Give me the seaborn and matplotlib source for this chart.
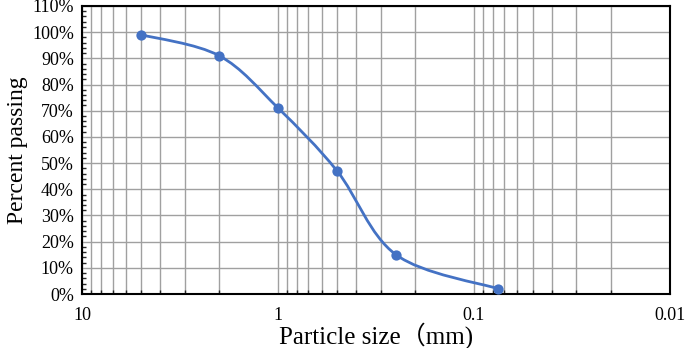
"""Particle size distribution curve (Excel-style smooth line, reversed log axis)."""
import matplotlib
matplotlib.use("Agg")
import matplotlib.pyplot as plt
import numpy as np
import pandas as pd
import seaborn as sns
from matplotlib.path import Path
from matplotlib.patches import PathPatch
from matplotlib.ticker import FixedLocator, FuncFormatter, MultipleLocator, LogLocator, NullFormatter

# data
sizes_mm = [5, 2, 1, 0.5, 0.25, 0.075]
passing = [0.99, 0.91, 0.71, 0.47, 0.15, 0.02]

x_ticks = [10, 1, 0.1, 0.01]
x_tick_labels = ["10", "1", "0.1", "0.01"]

BLUE = "#4472C4"

sns.set_theme(style="white")
plt.rcParams["font.family"] = ["Liberation Serif", "Noto Sans CJK SC"]

df = pd.DataFrame({"size": sizes_mm, "passing": passing})

fig, ax = plt.subplots(figsize=(6.85, 3.48), dpi=100)
fig.subplots_adjust(left=0.12, right=0.978, top=0.983, bottom=0.155)

ax.set_xscale("log")
ax.set_xlim(10, 0.01)
ax.set_ylim(0, 1.1)

# smooth curve like Excel: Catmull-Rom -> cubic bezier, built in log-x space
lx = np.log10(df["size"].to_numpy())
yy = df["passing"].to_numpy()
pts = np.column_stack([lx, yy])
verts = [pts[0]]
codes = [Path.MOVETO]
n = len(pts)
for i in range(n - 1):
    p0 = pts[i - 1] if i > 0 else pts[i]
    p1 = pts[i]
    p2 = pts[i + 1]
    p3 = pts[i + 2] if i + 2 < n else pts[i + 1]
    c1 = p1 + (p2 - p0) / 6
    c2 = p2 - (p3 - p1) / 6
    verts += [c1, c2, p2]
    codes += [Path.CURVE4] * 3
verts = np.array(verts)
verts[:, 0] = 10 ** verts[:, 0]
ax.add_patch(PathPatch(Path(verts, codes), transform=ax.transData,
                       fill=False, edgecolor=BLUE, lw=2, zorder=3))

sns.scatterplot(data=df, x="size", y="passing", color=BLUE, s=55,
                edgecolor=BLUE, linewidth=0, zorder=4, ax=ax, legend=False)

# grid
ax.xaxis.set_major_locator(FixedLocator(x_ticks))
ax.xaxis.set_major_formatter(FuncFormatter(lambda v, p: x_tick_labels[x_ticks.index(v)] if v in x_ticks else ""))
ax.xaxis.set_minor_locator(LogLocator(base=10, subs=np.arange(2, 10)))
ax.xaxis.set_minor_formatter(NullFormatter())
ax.yaxis.set_major_locator(MultipleLocator(0.1))
ax.yaxis.set_minor_locator(MultipleLocator(0.02))
ax.yaxis.set_major_formatter(FuncFormatter(lambda v, p: f"{v * 100:.0f}%"))

ax.grid(which="major", axis="both", color="#a0a0a0", lw=1)
ax.grid(which="minor", axis="x", color="#a0a0a0", lw=1)
ax.set_axisbelow(True)

for s in ax.spines.values():
    s.set_color("black")
    s.set_linewidth(1.5)

ax.tick_params(axis="both", which="major", direction="in", length=4, width=1,
               labelsize=13, colors="black", pad=6)
ax.tick_params(axis="y", which="minor", direction="in", length=3, width=1, left=True)
ax.tick_params(axis="x", which="minor", direction="in", length=3, width=1, bottom=True)
ax.tick_params(axis="x", which="major", pad=9)

ax.set_xlabel("Particle size（mm)", fontsize=18, color="black", labelpad=-1)
ax.set_ylabel("Percent passing", fontsize=17, color="black", labelpad=3)

plt.savefig("out.png", dpi=100)
plt.close()
